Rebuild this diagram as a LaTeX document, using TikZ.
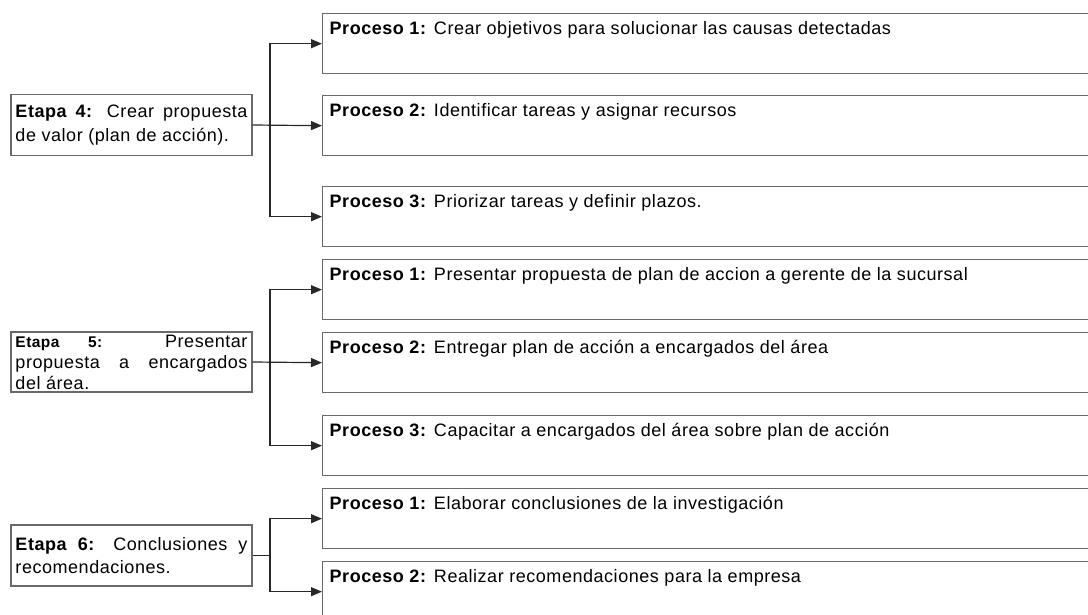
\documentclass[tikz,border=0pt]{standalone}
\usepackage{fontspec}
\setmainfont{Liberation Sans}[LetterSpace=3]
\usetikzlibrary{arrows.meta}
\definecolor{boxgray}{RGB}{105,105,105}
\definecolor{linegray}{RGB}{40,40,40}
\hyphenpenalty=10000
\exhyphenpenalty=10000
\newcommand{\proctext}[1]{\parbox[c][60pt][t]{766pt}{\vspace{8pt}#1}}
\tikzset{
  proc/.style={draw=boxgray, line width=1.4pt, anchor=north west, inner xsep=7pt, inner ysep=0pt,
    font=\fontsize{18}{21}\selectfont},
  stage/.style={draw=boxgray, line width=1.4pt, text width=232pt, inner xsep=4.5pt, inner ysep=0pt,
    align=justify, minimum height=61pt, font=\fontsize{18}{23.5}\selectfont},
  conn/.style={draw=linegray, line width=1.2pt},
  arr/.style={conn, -{Triangle[length=11pt,width=9pt]}}
}
\begin{document}
\begin{tikzpicture}[x=1pt,y=-1pt]
\useasboundingbox (0,0) rectangle (1088,615);
\fill[white] (0,0) rectangle (1088,615);
% process boxes
\node[proc] (p1) at (322,13) {\proctext{\textbf{Proceso 1:} Crear objetivos para solucionar las causas detectadas}};
\node[proc] (p2) at (322,95) {\proctext{\textbf{Proceso 2:} Identificar tareas y asignar recursos}};
\node[proc] (p3) at (322,186) {\proctext{\textbf{Proceso 3:} Priorizar tareas y definir plazos.}};
\node[proc] (p4) at (322,259) {\proctext{\textbf{Proceso 1:} Presentar propuesta de plan de accion a gerente de la sucursal}};
\node[proc] (p5) at (322,332) {\proctext{\textbf{Proceso 2:} Entregar plan de acción a encargados del área}};
\node[proc] (p6) at (322,415) {\proctext{\textbf{Proceso 3:} Capacitar a encargados del área sobre plan de acción}};
\node[proc] (p7) at (322,488) {\proctext{\textbf{Proceso 1:} Elaborar conclusiones de la investigación}};
\node[proc] (p8) at (322,561) {\proctext{\textbf{Proceso 2:} Realizar recomendaciones para la empresa}};
% stage boxes
\node[stage] (s4) at (131.5,125) {\textbf{Etapa 4:} Crear propuesta de valor (plan de acción).};
\node[stage, minimum height=60pt, font=\fontsize{18}{21}\selectfont] (s5) at (131.5,362) {{\fontsize{15.5}{21}\selectfont\textbf{Etapa 5:}} Presentar\linebreak propuesta a encargados\linebreak del área.};
\node[stage] (s6) at (131.5,555.5) {\textbf{Etapa 6:} Conclusiones y recomendaciones.};
% junctions
\coordinate (j4) at (270,125);
\coordinate (j5) at (270,362);
\coordinate (j6) at (270,555.5);
% connectors stage 4
\draw[arr] (s4.east) -- (p2.west);
\draw[arr] (j4) |- (p1.west);
\draw[arr] (j4) |- (p3.west);
% stage 5
\draw[arr] (s5.east) -- (p5.west);
\draw[arr] (j5) |- (p4.west);
\draw[arr] (j5) |- (p6.west);
% stage 6
\draw[conn] (s6.east) -- (j6);
\draw[arr] (j6) |- (p7.west);
\draw[arr] (j6) |- (p8.west);
\end{tikzpicture}
\end{document}
